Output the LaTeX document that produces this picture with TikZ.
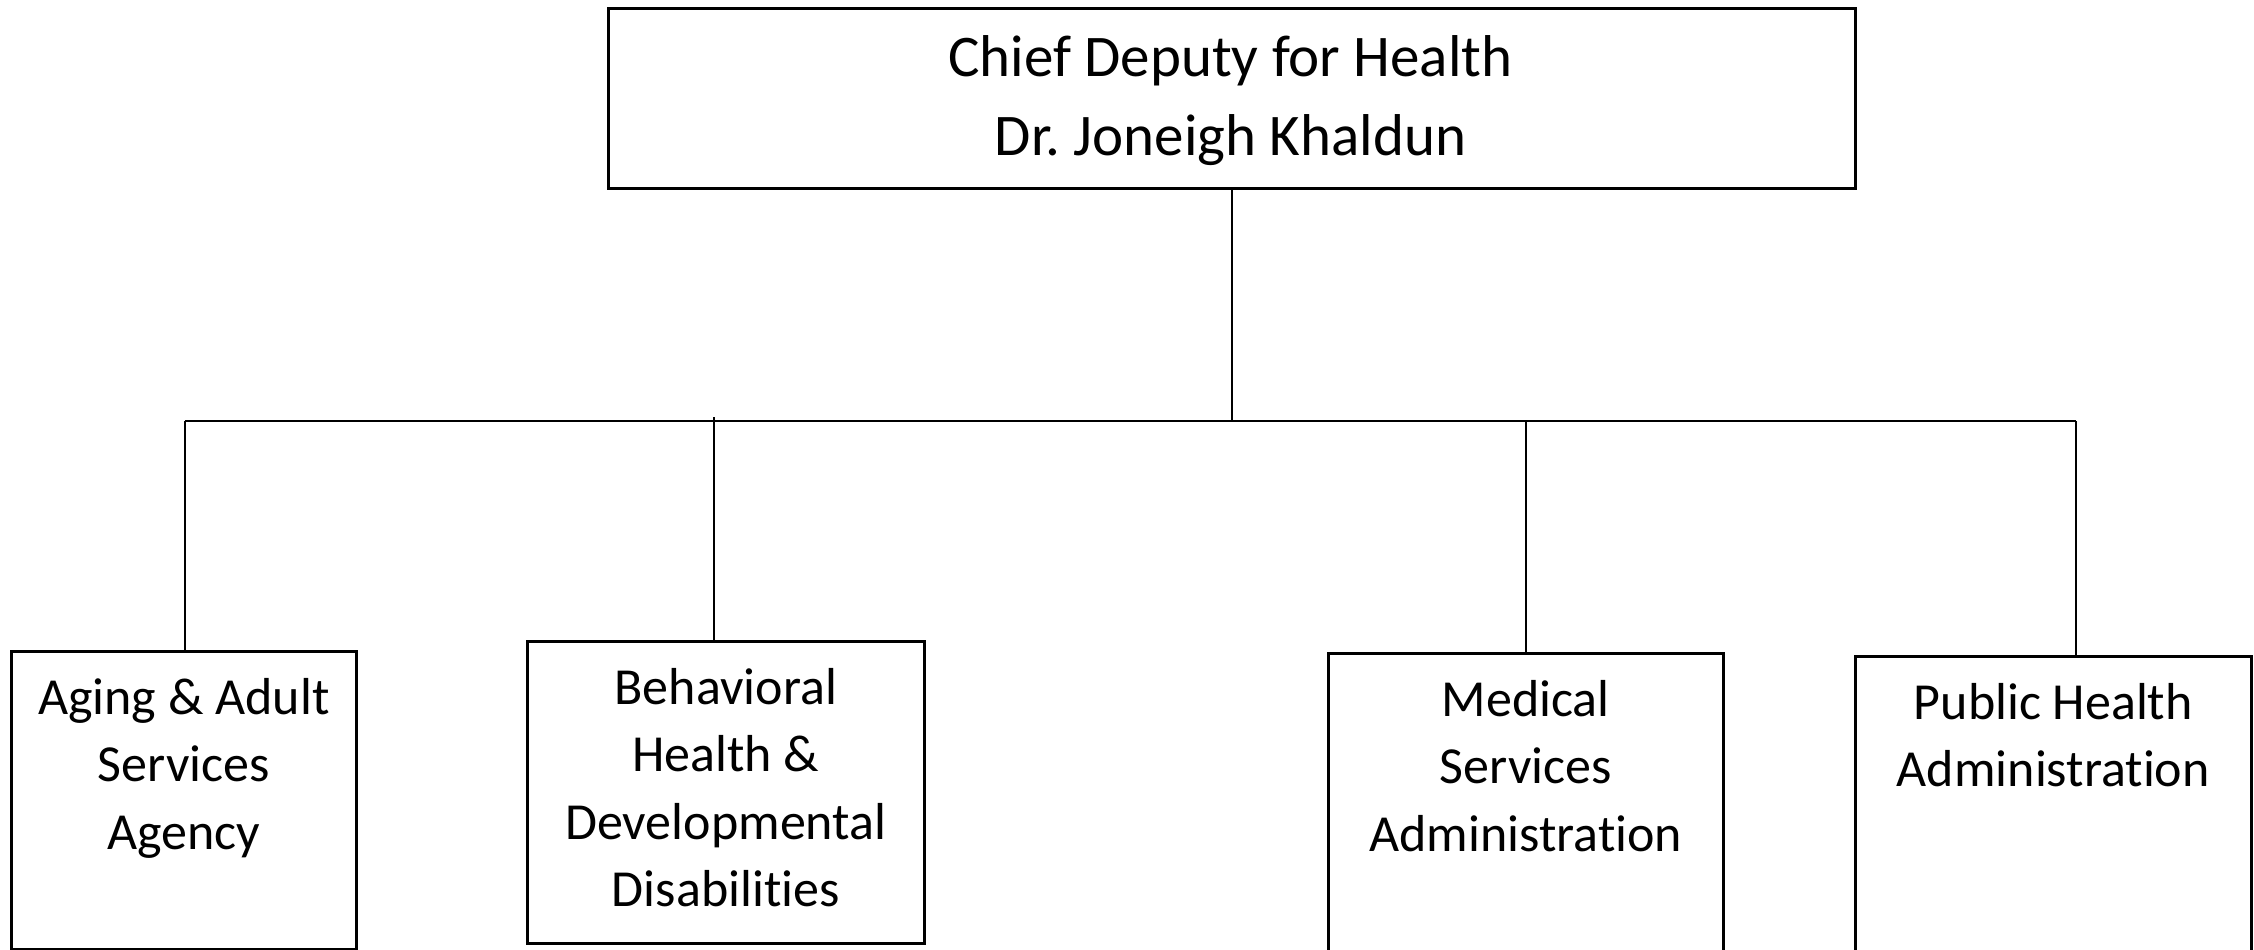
\documentclass[tikz,border=0pt]{standalone}
\usepackage{fontspec}
\setmainfont[Ligatures=NoCommon]{Carlito}
\frenchspacing
\begin{document}
\begin{tikzpicture}[x=1pt,y=-1pt,
  orgbox/.style={draw=black, line width=2.6pt, rectangle, inner sep=0pt, anchor=north west},
  toptext/.style={align=center, font=\fontsize{59}{79}\selectfont, inner sep=0pt},
  subtext/.style={align=center, font=\fontsize{52}{67.5}\selectfont, inner sep=0pt, anchor=north},
  link/.style={draw=black, line width=2.2pt}]
\useasboundingbox (0,0) rectangle (2254,950);
\clip (0,0) rectangle (2254,950);
% top box
\node[orgbox, minimum width=1247pt, minimum height=180pt] (top) at (607,7) {};
\node[toptext] (toplbl) at (1230.5,100.5) {Chief Deputy for Health\\Dr.\ Joneigh Khaldun};
% sub boxes
\node[orgbox, minimum width=345pt, minimum height=298pt] (b1) at (10,650) {};
\node[orgbox, minimum width=397pt, minimum height=302pt] (b2) at (526,640) {};
\node[orgbox, minimum width=395pt, minimum height=320pt] (b3) at (1327,652) {};
\node[orgbox, minimum width=396pt, minimum height=320pt] (b4) at (1854,655) {};
\node[subtext] (l1) at ([yshift=-28pt]b1.north) {Aging \& Adult\\Services\\Agency};
\node[subtext] (l2) at ([yshift=-28pt]b2.north) {Behavioral\\Health \&\\Developmental\\Disabilities};
\node[subtext] (l3) at ([yshift=-28pt]b3.north) {Medical\\Services\\Administration};
\node[subtext] (l4) at ([yshift=-28pt]b4.north) {Public Health\\Administration};
% bus
\coordinate (busL) at (185,421);
\coordinate (busR) at (2076,421);
\coordinate (c2) at (714,417);
\coordinate (c3) at (1526,421);
\draw[link] (busL) -- (busR);
\draw[link] (top.south) -- (top.south |- busL);
\draw[link] (busL) -- (busL |- b1.north);
\draw[link] (c2) -- (c2 |- b2.north);
\draw[link] (c3) -- (c3 |- b3.north);
\draw[link] (busR) -- (busR |- b4.north);
\end{tikzpicture}
\end{document}
